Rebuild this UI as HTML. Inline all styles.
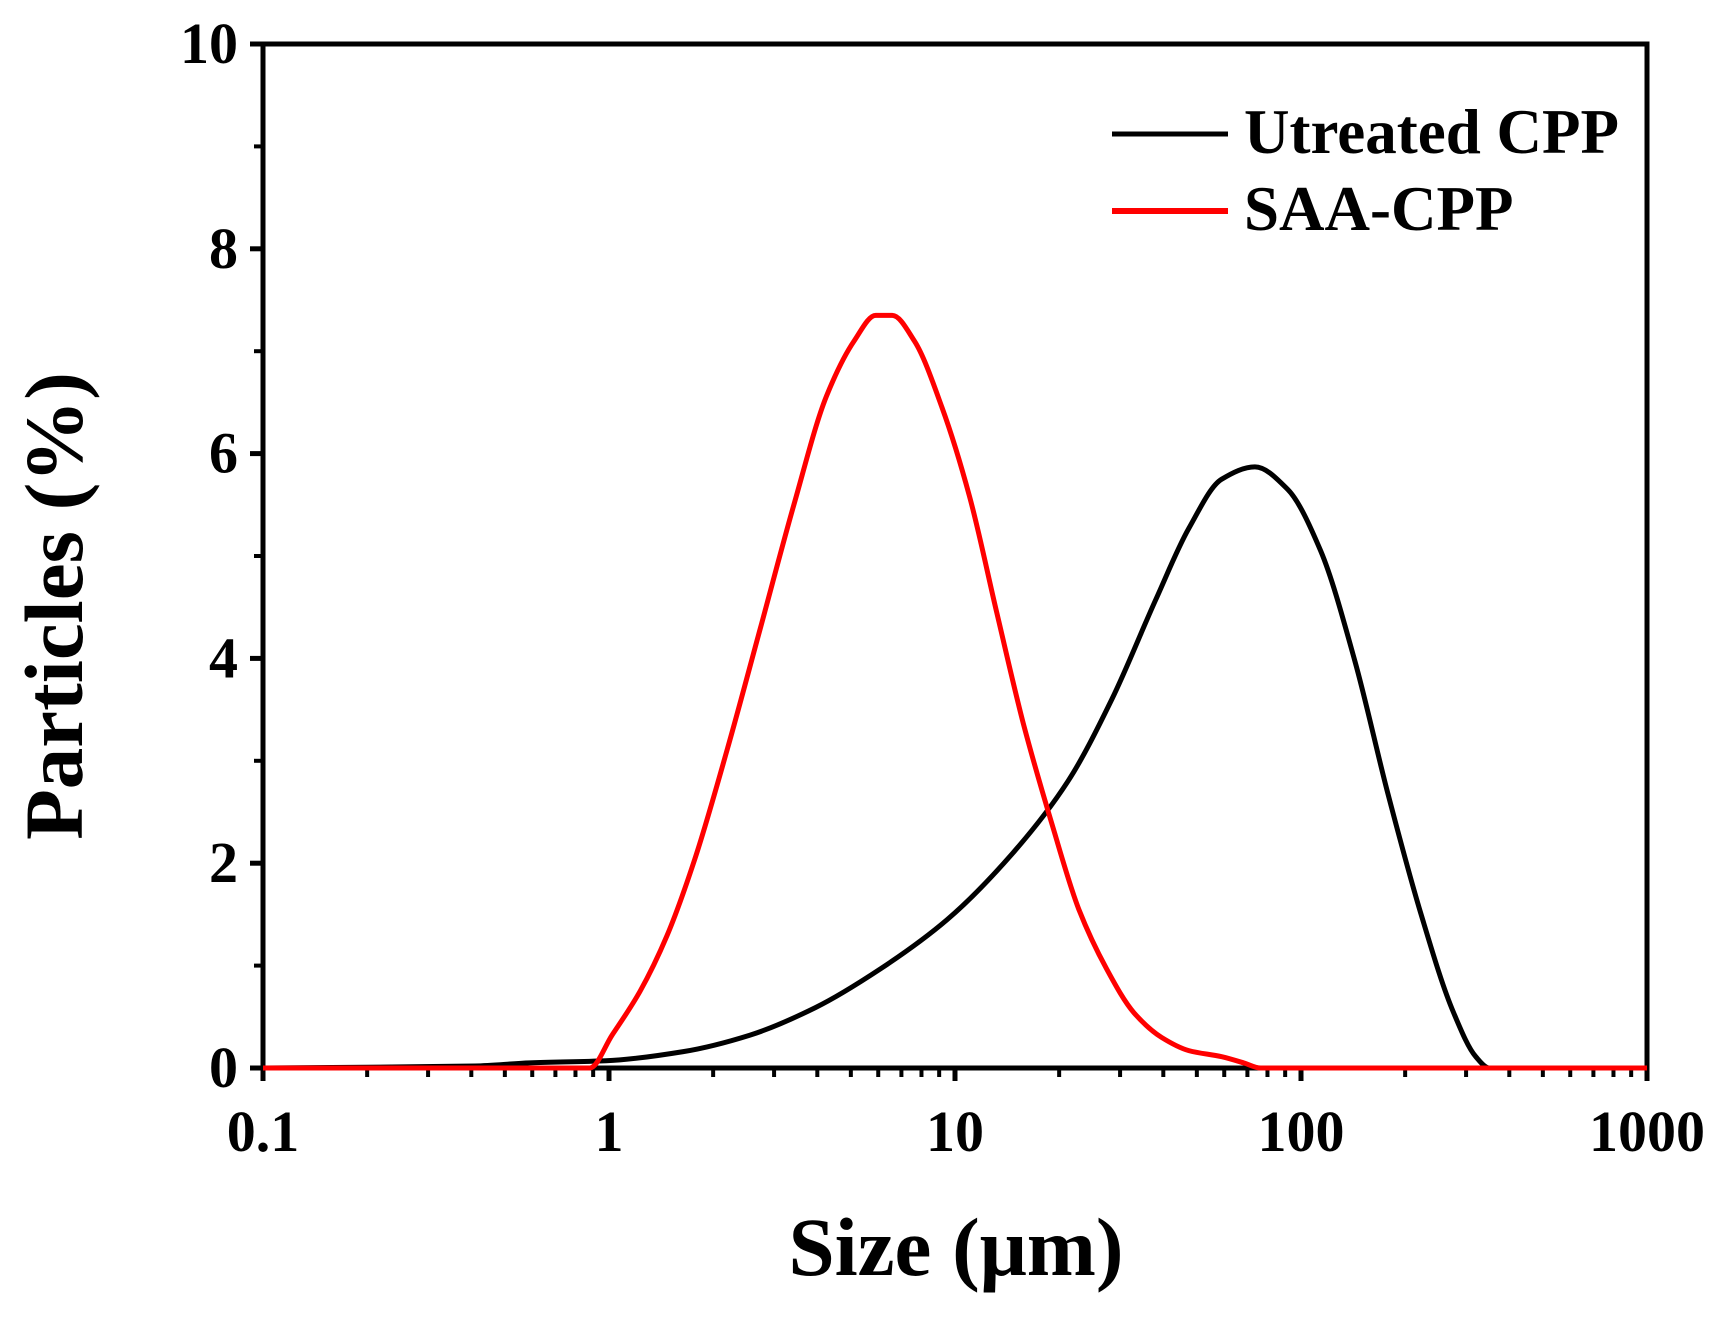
<!DOCTYPE html>
<html><head><meta charset="utf-8"><style>
body{margin:0;background:#fff}
svg{display:block}
text{font-family:"Liberation Serif",serif;font-weight:bold;fill:#000}
</style></head><body>
<svg id="chart" width="1727" height="1317" viewBox="0 0 1727 1317">
<g id="marks"></g>
</svg>
<script>
const xTickValues=[0.1,1,10,100,1000];
const xTickLabels=["0.1","1","10","100","1000"];
const yTickValues=[0,2,4,6,8,10];
const yTickLabels=["0","2","4","6","8","10"];
const untreatedSize=[0.1,0.41,0.59,0.98,1.64,2.55,3.95,6.1,9.5,14.7,21.2,28.4,38.0,47.4,59,73.6,91.5,114,143,178,222,276,320,350,1000];
const untreatedPct=[0,0.02,0.05,0.07,0.16,0.32,0.59,0.97,1.45,2.1,2.8,3.6,4.57,5.27,5.75,5.87,5.65,5.05,3.98,2.69,1.51,0.54,0.11,0,0];
const saaSize=[0.1,0.88,1.02,1.23,1.47,1.77,2.2,2.74,3.41,4.25,5.11,5.9,6.59,7.63,9.17,11.0,13.2,15.8,19.0,22.8,27.4,32.9,39.5,47.4,59,68.3,76.4,1000];
const saaPct=[0,0,0.32,0.75,1.29,2.04,3.12,4.3,5.48,6.56,7.1,7.35,7.35,7.1,6.45,5.59,4.45,3.35,2.4,1.55,0.97,0.54,0.3,0.17,0.11,0.05,0,0];

const L=263,R=1647,T=44,B=1068;
const xs=v=>L+(Math.log10(v)+1)*(R-L)/4;
const ys=v=>B-v*(B-T)/10;
const NS="http://www.w3.org/2000/svg";
const g=document.getElementById('marks');
function mk(tag,attrs){const e=document.createElementNS(NS,tag);for(const k in attrs)e.setAttribute(k,attrs[k]);g.appendChild(e);return e;}

let fr=mk('rect',{x:L,y:T,width:R-L,height:B-T,fill:'none',stroke:'#000','stroke-width':5});



xTickValues.forEach((v,i)=>{
  const x=xs(v);
  let t=mk('line',{x1:x,x2:x,y1:B,y2:B+13,stroke:'#000','stroke-width':5});
  
  
  let lb=mk('text',{x:x,y:1151,'text-anchor':'middle','font-size':58});
  lb.textContent=xTickLabels[i];
  
  
  if(i<xTickValues.length-1){
    for(let m=2;m<10;m++){
      const xm=xs(v*m);
      let mt=mk('line',{x1:xm,x2:xm,y1:B,y2:B+9,stroke:'#000','stroke-width':4});
      
      
    }
  }
});
yTickValues.forEach((v,i)=>{
  const y=ys(v);
  let t=mk('line',{x1:L-13,x2:L,y1:y,y2:y,stroke:'#000','stroke-width':5});
  
  
  let lb=mk('text',{x:238,y:y+19,'text-anchor':'end','font-size':58});
  lb.textContent=yTickLabels[i];
  
  
  if(i<yTickValues.length-1){
    const ym=ys(v+1);
    let mt=mk('line',{x1:L-9,x2:L,y1:ym,y2:ym,stroke:'#000','stroke-width':4});
    
    
  }
});

function path(sx,sy,color,name){
  const X=sx.map(xs),Y=sy.map(ys),n=X.length;
  const d0=[];for(let i=0;i<n-1;i++)d0.push((Y[i+1]-Y[i])/(X[i+1]-X[i]));
  const m=new Array(n);
  m[0]=d0[0];m[n-1]=d0[n-2];
  for(let i=1;i<n-1;i++){
    if(d0[i-1]*d0[i]<=0)m[i]=0;
    else{const w1=2*(X[i+1]-X[i])+(X[i]-X[i-1]),w2=(X[i+1]-X[i])+2*(X[i]-X[i-1]);m[i]=(w1+w2)/(w1/d0[i-1]+w2/d0[i]);}
  }
  let d='M'+X[0].toFixed(1)+','+Y[0].toFixed(1);
  for(let i=0;i<n-1;i++){
    const h=(X[i+1]-X[i])/3;
    d+='C'+(X[i]+h).toFixed(1)+','+(Y[i]+m[i]*h).toFixed(1)+' '+(X[i+1]-h).toFixed(1)+','+(Y[i+1]-m[i+1]*h).toFixed(1)+' '+X[i+1].toFixed(1)+','+Y[i+1].toFixed(1);
  }
  let p=mk('path',{d:d,fill:'none',stroke:color,'stroke-width':5,'stroke-linejoin':'round'});
  
  
}
path(untreatedSize,untreatedPct,'#000','untreated-cpp-line');
path(saaSize,saaPct,'#f00','saa-cpp-line');

let l1=mk('line',{x1:1112,x2:1228,y1:134,y2:134,stroke:'#000','stroke-width':5});


let t1=mk('text',{x:1244,y:153,'font-size':63});
t1.textContent='Utreated CPP';


let l2=mk('line',{x1:1112,x2:1228,y1:211,y2:211,stroke:'#f00','stroke-width':6});


let t2=mk('text',{x:1244,y:230,'font-size':63});
t2.textContent='SAA-CPP';



let xt=mk('text',{x:956,y:1275,'text-anchor':'middle','font-size':83});
xt.textContent='Size (μm)';


let yt=mk('text',{x:0,y:0,'text-anchor':'middle','font-size':83,transform:'translate(82,606) rotate(-90)'});
yt.textContent='Particles (%)';


</script>
</body></html>
